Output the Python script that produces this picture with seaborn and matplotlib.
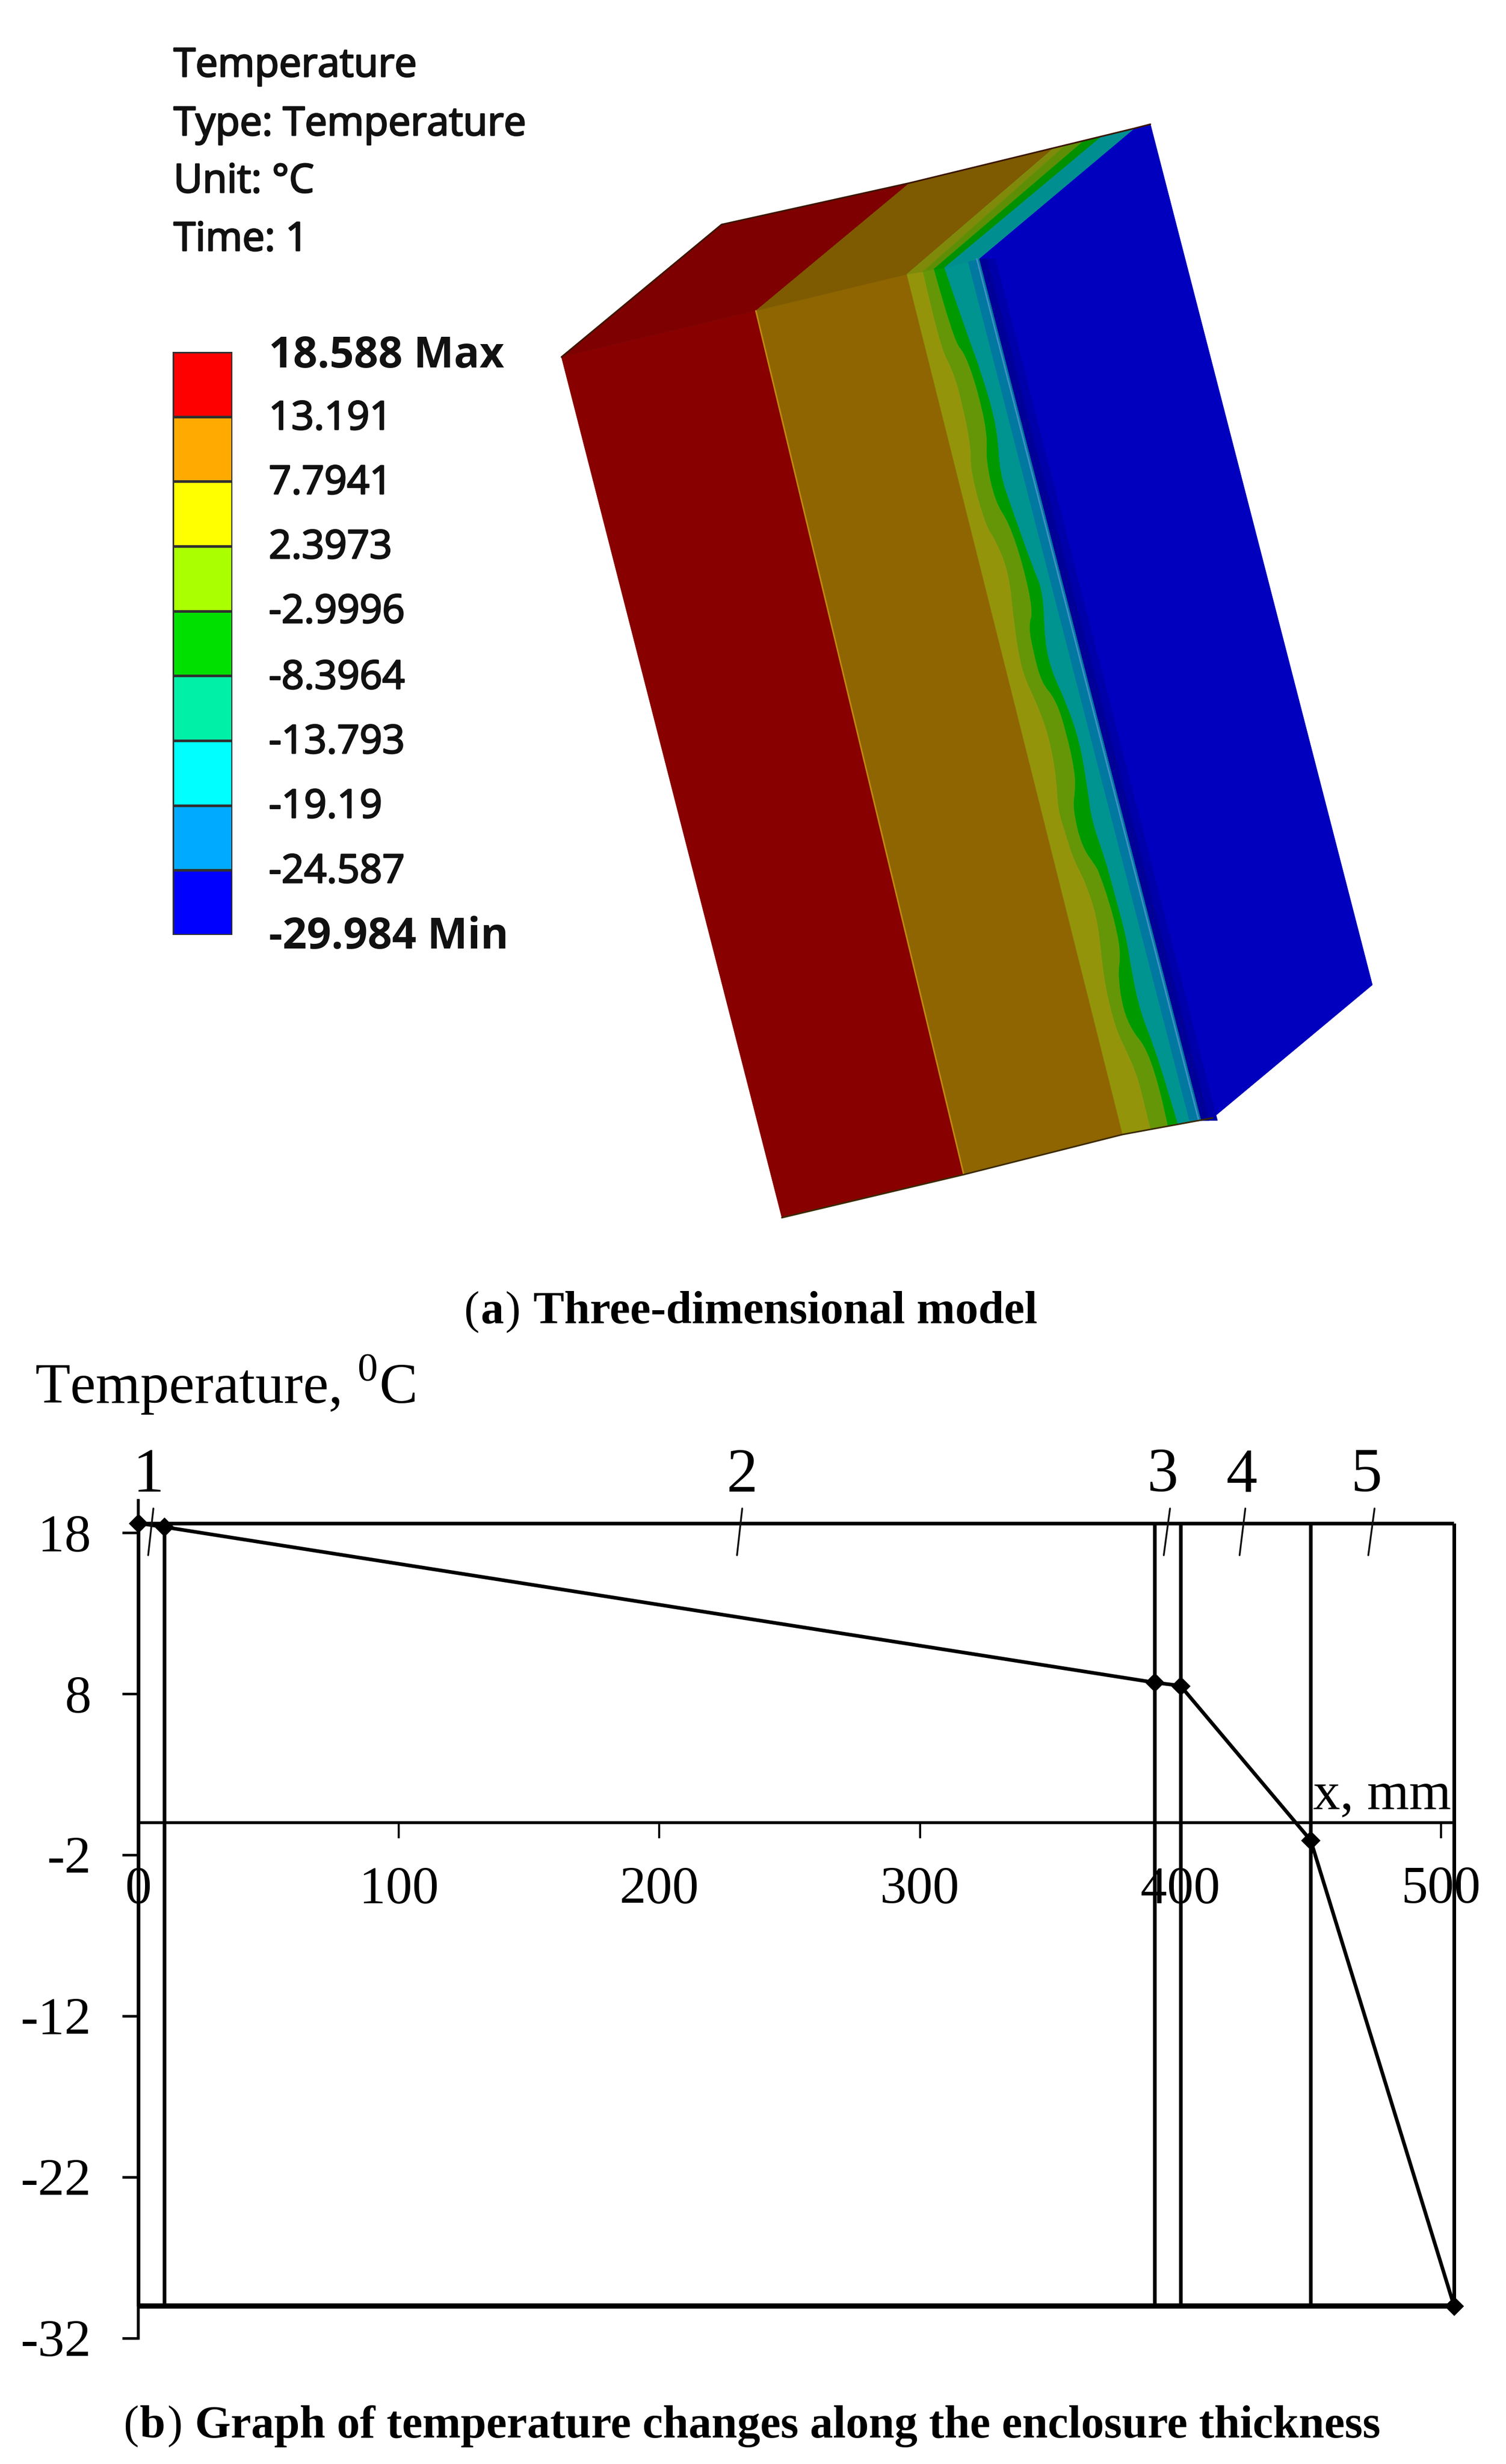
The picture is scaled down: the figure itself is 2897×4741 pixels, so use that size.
import numpy as np
import matplotlib
matplotlib.use("Agg")
import matplotlib.pyplot as plt
import matplotlib.patheffects as pe
from matplotlib.colors import ListedColormap
from matplotlib.patches import Polygon, PathPatch
from matplotlib.path import Path
import seaborn as sns

# ---------- data ----------
thickness_mm = [0, 10, 390, 400, 450, 505]
temperature_c = [18.588, 18.35, 8.7, 8.5, -1.1, -29.984]
layer_numbers = ["1", "2", "3", "4", "5"]
layer_label_x = [3.8, 231.7, 393.3, 423.6, 471.5]
callout_x_top = [5.8, 231.8, 396.0, 424.9, 474.5]
callout_x_bottom = [3.8, 229.8, 393.6, 422.7, 472.1]
x_ticks = [0, 100, 200, 300, 400, 500]
y_ticks = [18, 8, -2, -12, -22, -32]
y_tick_labels = ["18", "8", "-2", "-12", "-22", "-32"]

legend_labels = ["18.588 Max", "13.191", "7.7941", "2.3973", "-2.9996", "-8.3964",
                 "-13.793", "-19.19", "-24.587", "-29.984 Min"]
legend_colors = ["#FF0000", "#FFAA00", "#FFFF00", "#AAFF00", "#00E000",
                 "#00F0A8", "#00FFFF", "#00AAFF", "#0000FF"]
legend_header = ["Temperature", "Type: Temperature", "Unit: \u00b0C", "Time: 1"]

# model outline (picture pixels)
red_top = [(1080, 687), (1388, 432), (1750, 352), (1454, 598)]
red_front = [(1080, 687), (1454, 598), (1854, 2260), (1504, 2343)]
brown_top = [(1454, 598), (1750, 352), (2028, 284), (1744, 528)]
brown_front = [(1454, 598), (1744, 528), (2159, 2183), (1854, 2260)]
olive_top = [(1744, 528), (2028, 284), (2050, 279), (1775, 523)]
leaf_top = [(1775, 523), (2050, 279), (2086, 270), (1796, 518)]
green_top = [(1796, 518), (2086, 270), (2120, 262), (1817, 515)]
teal_top = [(1817, 515), (2120, 262), (2182, 247), (1883, 498)]
blue_face = [(1883, 498), (2182, 247), (2213, 239), (2640, 1895), (2333, 2151), (2310, 2156)]
back_outline = [(1080, 687), (1388, 432), (1750, 352), (2182, 247), (2213, 239)]
bottom_outline = [(1504, 2343), (1854, 2260), (2159, 2183), (2333, 2151)]

base_edge = [(1744, 528), (2159, 2183)]
blue_edge = [(1883, 498), (2310, 2156)]
olive_edge = [(1775, 523), (1807, 665), (1834, 716), (1852, 783), (1867, 859), (1867, 910),
              (1896, 1012), (1914, 1038), (1940, 1100), (1950, 1196), (1960, 1265), (1973, 1310),
              (1990, 1345), (2010, 1395), (2023, 1444), (2032, 1502), (2035, 1559), (2048, 1600),
              (2063, 1650), (2087, 1696), (2110, 1765), (2118, 1837), (2127, 1906), (2147, 1983),
              (2170, 2029), (2190, 2078), (2207, 2151), (2213, 2173)]
leaf_edge = [(1796, 518), (1834, 655), (1856, 681), (1879, 747), (1899, 834), (1896, 885),
             (1914, 966), (1941, 1007), (1968, 1089), (1987, 1177), (1978, 1203), (1987, 1253),
             (2003, 1314), (2030, 1345), (2050, 1406), (2067, 1483), (2068, 1521), (2063, 1555),
             (2080, 1628), (2107, 1666), (2113, 1677), (2133, 1734), (2150, 1799), (2155, 1841),
             (2150, 1876), (2160, 1944), (2180, 1987), (2200, 2010), (2220, 2059), (2240, 2136),
             (2246, 2167)]
green_edge = [(1817, 515), (1856, 630), (1888, 716), (1919, 823), (1923, 910), (1950, 987),
              (1986, 1089), (2007, 1138), (2010, 1234), (2023, 1291), (2050, 1349), (2077, 1425),
              (2093, 1521), (2100, 1578), (2127, 1655), (2143, 1715), (2167, 1803), (2177, 1868),
              (2193, 1944), (2220, 2013), (2247, 2098), (2266, 2163)]
navy_width = 16
navy_soft_width = 32
cyan_band_width = 22

# ---------- figure ----------
W, H = 2897, 4741
sns.set_theme(style="white")
plt.rcParams["font.family"] = ["Liberation Serif", "DejaVu Sans"]
plt.rcParams["axes.unicode_minus"] = False
plt.rcParams["mathtext.fontset"] = "custom"
plt.rcParams["mathtext.rm"] = "Liberation Serif"
PX = 0.72  # points per pixel at dpi 100

fig = plt.figure(figsize=(W / 100, H / 100), dpi=100, facecolor="white")

canvas = fig.add_axes([0, 0, 1, 1])
canvas.set_xlim(0, W)
canvas.set_ylim(H, 0)
canvas.axis("off")


def face(points, color):
    canvas.add_patch(Polygon(points, closed=True, facecolor=color, edgecolor=color, linewidth=0.5))


def shifted(edge, dx):
    return [(x + dx, y) for x, y in edge]


def curve(edge):
    """Quadratic segments that pass smoothly along a traced edge."""
    if len(edge) == 2:
        return [edge[1]], [Path.LINETO]
    verts, codes = [], []
    for i in range(1, len(edge) - 1):
        p, q = edge[i], edge[i + 1]
        end = q if i == len(edge) - 2 else ((p[0] + q[0]) / 2, (p[1] + q[1]) / 2)
        verts += [p, end]
        codes += [Path.CURVE3, Path.CURVE3]
    return verts, codes


def band(left, right, color):
    right = list(right)[::-1]
    lv, lc = curve(left)
    rv, rc = curve(right)
    verts = [left[0]] + lv + [right[0]] + rv + [left[0]]
    codes = [Path.MOVETO] + lc + [Path.LINETO] + rc + [Path.CLOSEPOLY]
    canvas.add_patch(PathPatch(Path(verts, codes), facecolor=color, edgecolor=color, linewidth=0.5))


face(blue_face, "#0000BE")
band(blue_edge, shifted(blue_edge, navy_soft_width), "#0000AA")
band(blue_edge, shifted(blue_edge, navy_width), "#000098")
band(leaf_edge, blue_edge, "#009A00")
band(green_edge, blue_edge, "#009490")
band(shifted(blue_edge, -cyan_band_width), blue_edge, "#0078A0")
band(olive_edge, leaf_edge, "#659607")
band(base_edge, olive_edge, "#94940A")
face(brown_front, "#8E6500")
face(red_front, "#880000")
face(red_top, "#7E0000")
face(brown_top, "#7E5A00")
face(olive_top, "#7F8A0A")
face(leaf_top, "#5E8E06")
face(green_top, "#009000")
face(teal_top, "#008E90")
canvas.plot(*zip(*shifted(blue_edge, -4)), color="#3F8FC8", lw=3 * PX)
canvas.plot(*zip(*[red_front[1], red_front[2]]), color="#C08A10", lw=3 * PX)
canvas.plot(*zip(*back_outline), color="#3A1500", lw=3 * PX)
canvas.plot(*zip(*bottom_outline), color="#3A2A00", lw=3 * PX)
canvas.set_xlim(0, W)
canvas.set_ylim(H, 0)

SANS = ["Open Sans", "DejaVu Sans"]
heavy = [pe.withStroke(linewidth=2.0, foreground="#111111")]
header_y = [127, 240, 350, 462]
for label, y in zip(legend_header, header_y):
    canvas.text(334, y, label, family=SANS, fontsize=76.5 * PX, va="center", ha="left", color="#111111",
                path_effects=heavy)

legend_y = [685, 806, 930, 1054, 1178, 1305, 1429, 1553, 1678, 1804]
for label, y in zip(legend_labels, legend_y):
    bold = "M" in label
    canvas.text(517, y, label, family=SANS, fontsize=(82 if bold else 76) * PX,
                fontweight="bold" if bold else "normal", va="center", ha="left", color="#111111",
                path_effects=None if bold else heavy)

legend_ax = fig.add_axes([332 / W, 1 - 1799 / H, (447 - 332) / W, (1799 - 677) / H])
sns.heatmap(np.arange(len(legend_colors)).reshape(-1, 1), cmap=ListedColormap(legend_colors),
            cbar=False, xticklabels=False, yticklabels=False, linewidths=3.5,
            linecolor="#303030", ax=legend_ax)


def mixed(x, y, pieces, size):
    """Write text pieces one after the other; each piece is (string, bold)."""
    rend = fig.canvas.get_renderer()
    for string, bold in pieces:
        if string == " ":
            x += 0.25 * size / PX
            continue
        t = canvas.text(x, y, string, family="Liberation Serif", fontsize=size,
                        fontweight="bold" if bold else "normal", va="baseline", ha="left", color="black")
        x += t.get_window_extent(rend).width + 0.03 * size / PX


mixed(892, 2546, [("(", False), ("a", True), (")", False), (" ", False),
                  ("Three-dimensional model", True)], 89 * PX)
mixed(237, 4690, [("(", False), ("b", True), (")", False), (" ", False),
                  ("Graph of temperature changes along the enclosure thickness", True)], 88.5 * PX)

# ---------- temperature chart ----------
ax_left, ax_right, ax_top, ax_bottom = 266, 2797, 2887, 4499
ax = fig.add_axes([ax_left / W, 1 - ax_bottom / H, (ax_right - ax_left) / W, (ax_bottom - ax_top) / H])
ax.patch.set_alpha(0)
ax.set_xlim(0, 505)
ax.set_ylim(-32, 20)

LW = 7 * PX
top_t, bottom_t = temperature_c[0], temperature_c[-1]
ax.vlines(thickness_mm, bottom_t, top_t, color="black", lw=LW, clip_on=False)
ax.hlines(top_t, thickness_mm[0], thickness_mm[-1], color="black", lw=LW)
ax.hlines(bottom_t, thickness_mm[0], thickness_mm[-1], color="black", lw=10 * PX)
sns.lineplot(x=thickness_mm, y=temperature_c, color="black", linewidth=LW, marker="D",
             markersize=26 * PX, markeredgecolor="black", clip_on=False, ax=ax)

for s in ("top", "right"):
    ax.spines[s].set_visible(False)
ax.spines["bottom"].set_position(("data", 0))
for s in ("left", "bottom"):
    ax.spines[s].set_linewidth(5.5 * PX)
    ax.spines[s].set_color("black")

ax.set_xticks(x_ticks)
ax.set_yticks(y_ticks)
ax.set_yticklabels(y_tick_labels)
ax.tick_params(axis="x", bottom=True, length=30 * PX, width=4 * PX, color="black", labelsize=102 * PX,
               pad=54 * PX, labelcolor="black")
ax.tick_params(axis="y", left=True, length=31 * PX, width=5 * PX, color="black", labelsize=102 * PX,
               pad=60 * PX, labelcolor="black")
ax.set_xlabel("")
ax.set_ylabel("")

for label, lx, tx, bx in zip(layer_numbers, layer_label_x, callout_x_top, callout_x_bottom):
    ax.plot([bx, tx], [16.6, 19.5], color="#111111", lw=3.5 * PX, clip_on=False)
    ax.text(lx, 21.5, label, fontsize=120 * PX, ha="center", va="center", color="black", clip_on=False)

ax.text(451, 0.85, "x, mm", fontsize=104 * PX, ha="left", va="baseline", color="black")
fig.text(67 / W, 1 - 2700 / H, "Temperature, $^{0}$C", fontsize=110.5 * PX, ha="left", va="baseline", color="black")

fig.savefig("out.png", dpi=100, facecolor="white")
